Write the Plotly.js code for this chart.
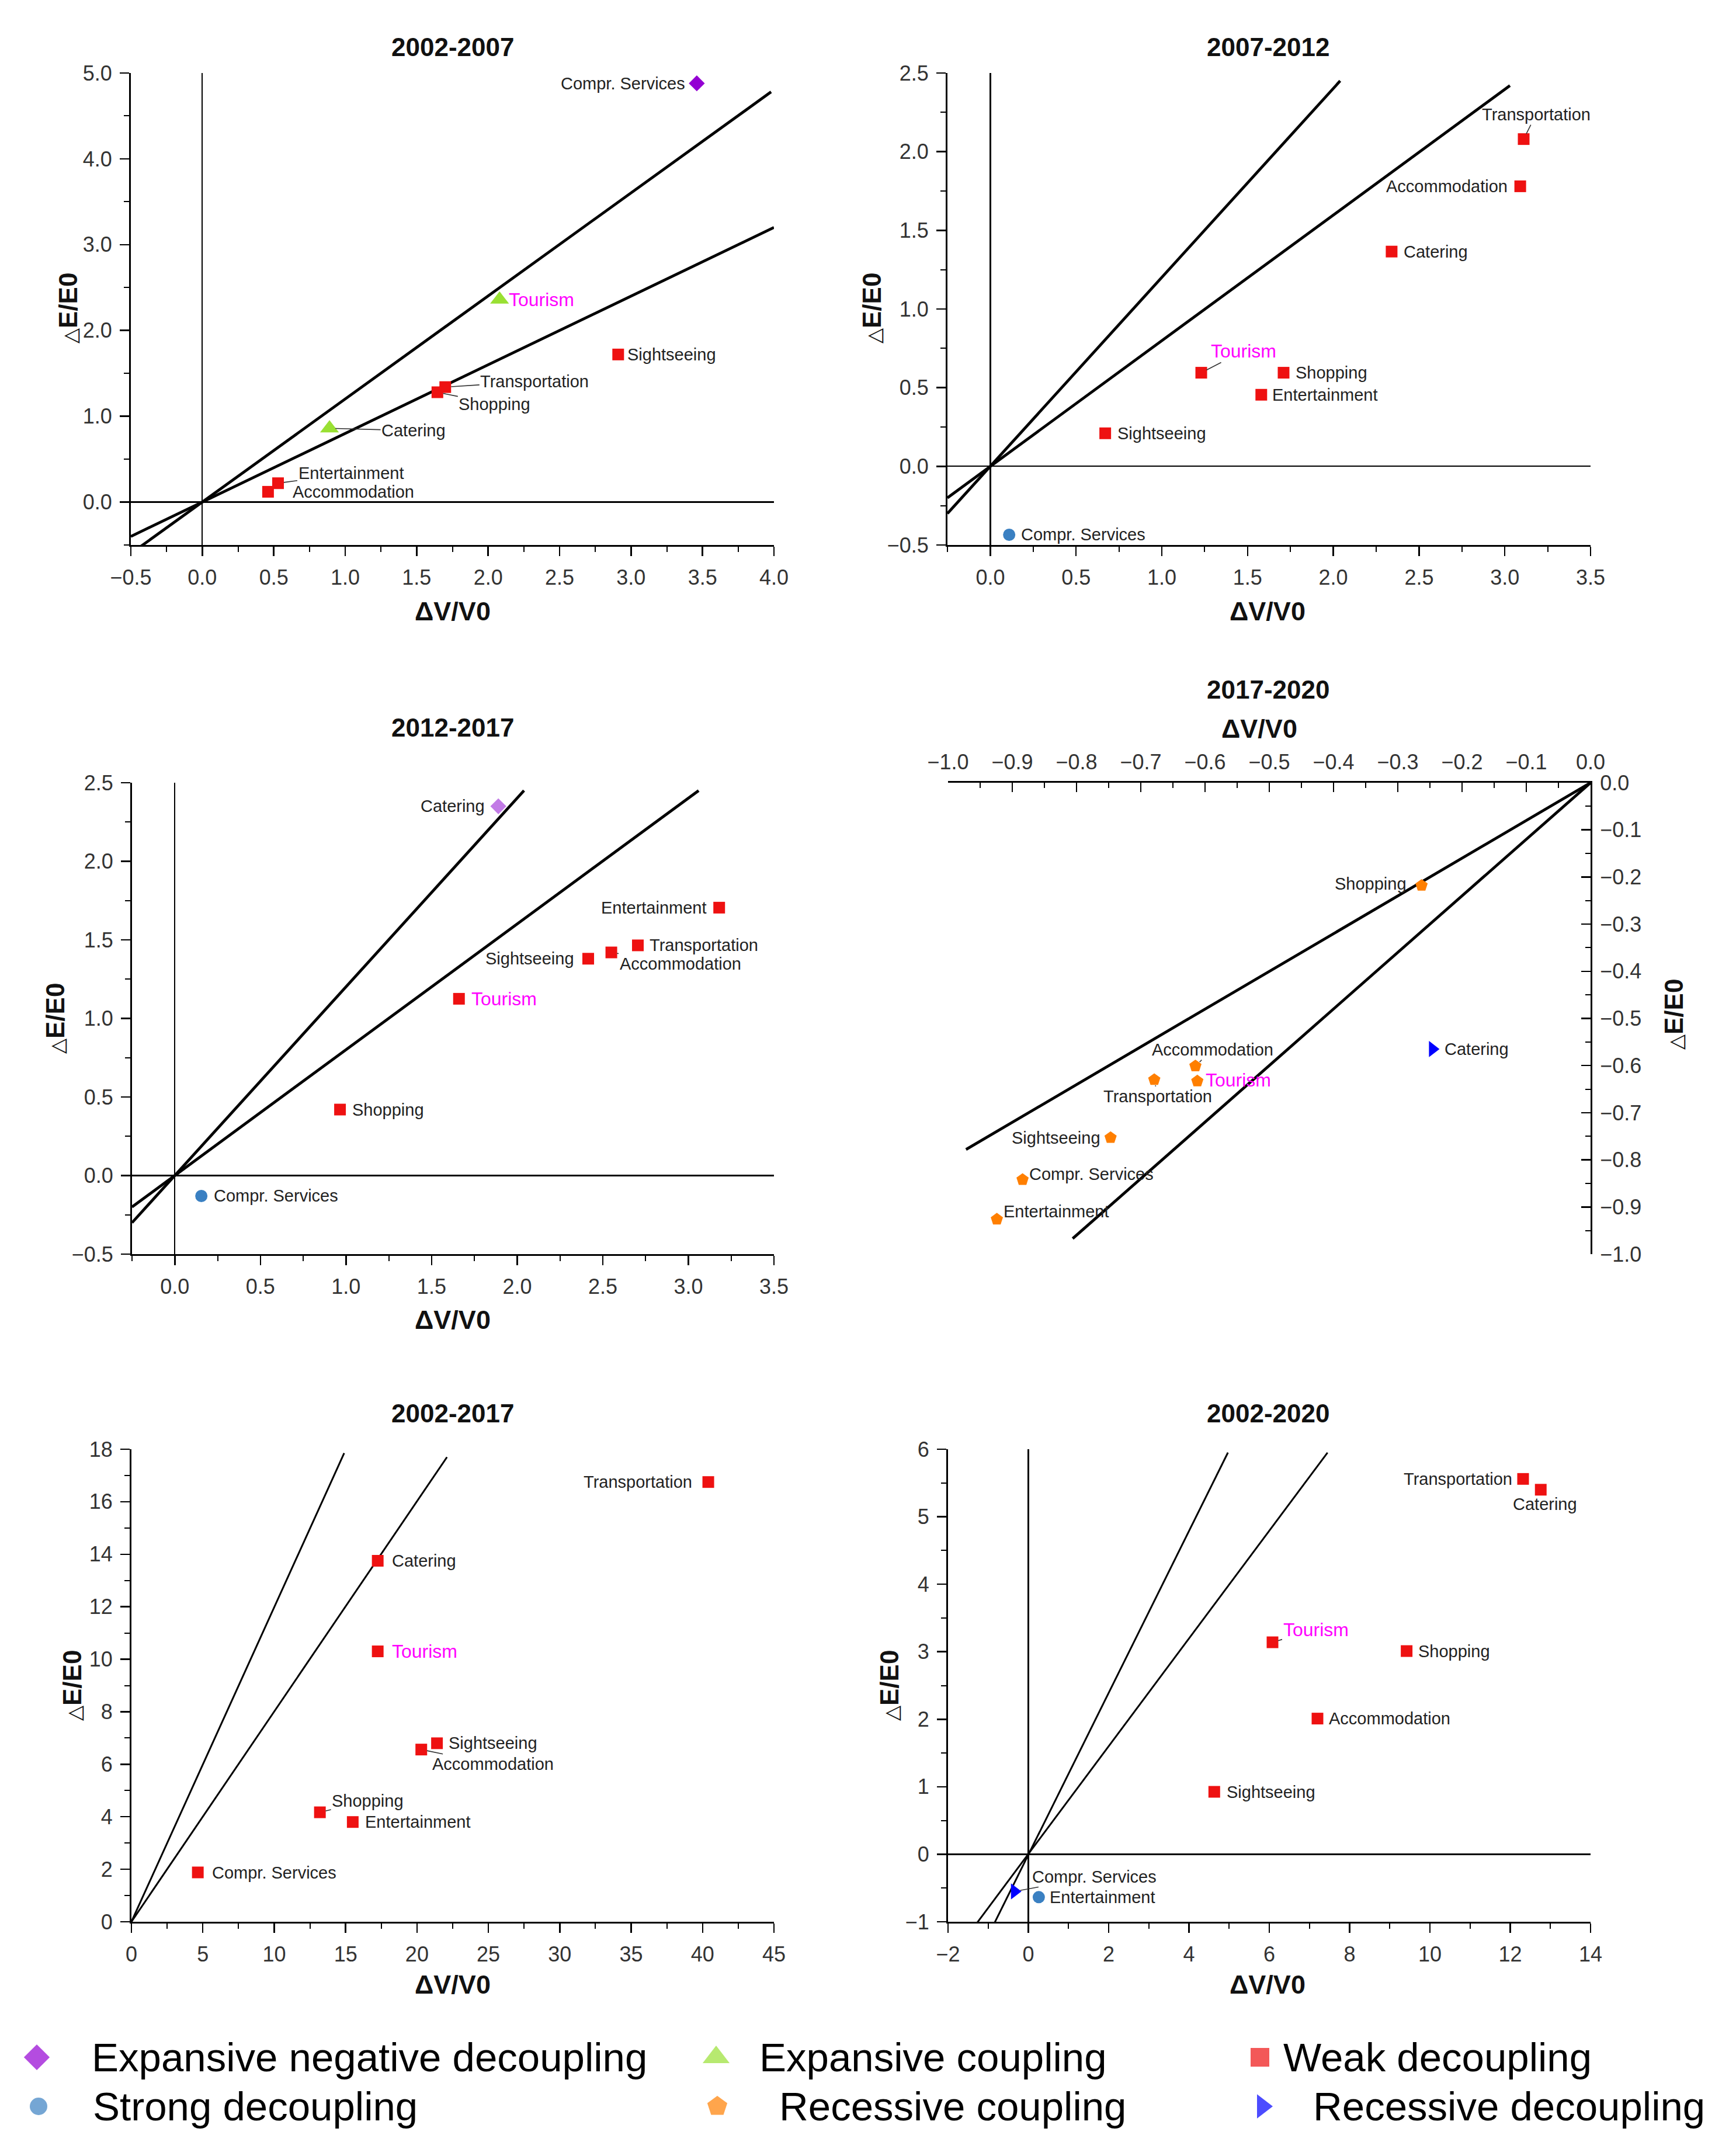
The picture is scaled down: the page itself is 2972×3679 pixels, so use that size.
<!DOCTYPE html>
<html><head><meta charset="utf-8">
<script src="https://cdn.plot.ly/plotly-3.0.1.min.js"></script>
<style>html,body{margin:0;padding:0;background:#fff}</style>
</head><body>
<div id="chart" style="width:2972px;height:3679px"></div>
<script>
// ---------------- DATA ----------------
const p1Title = "2002-2007";
const p1Names = ["Compr. Services","Tourism","Catering","Sightseeing","Transportation","Shopping","Entertainment","Accommodation"];
const p1X = [3.46, 2.08, 0.89, 2.91, 1.70, 1.645, 0.53, 0.46];
const p1Y = [4.88, 2.36, 0.86, 1.72, 1.34, 1.28, 0.22, 0.12];
const p1Types = ["END","EC","EC","WD","WD","WD","WD","WD"];
const p1LineAX = [-0.5, 3.98], p1LineAY = [-0.6, 4.78];
const p1LineBX = [-0.5, 4.0],  p1LineBY = [-0.4, 3.2];

const p2Title = "2007-2012";
const p2Names = ["Transportation","Accommodation","Catering","Tourism","Shopping","Entertainment","Sightseeing","Compr. Services"];
const p2X = [3.11, 3.09, 2.34, 1.23, 1.71, 1.58, 0.67, 0.11];
const p2Y = [2.08, 1.78, 1.365, 0.595, 0.595, 0.455, 0.21, -0.435];
const p2Types = ["WD","WD","WD","WD","WD","WD","WD","SD"];
const p2LineAX = [-0.25, 2.04], p2LineAY = [-0.3, 2.45];
const p2LineBX = [-0.25, 3.03], p2LineBY = [-0.2, 2.42];

const p3Title = "2012-2017";
const p3Names = ["Catering","Entertainment","Transportation","Accommodation","Sightseeing","Tourism","Shopping","Compr. Services"];
const p3X = [1.89, 3.18, 2.705, 2.55, 2.415, 1.66, 0.965, 0.155];
const p3Y = [2.35, 1.705, 1.465, 1.42, 1.38, 1.125, 0.42, -0.13];
const p3Types = ["END","WD","WD","WD","WD","WD","WD","SD"];
const p3LineAX = [-0.25, 2.04], p3LineAY = [-0.3, 2.45];
const p3LineBX = [-0.25, 3.06], p3LineBY = [-0.2, 2.45];

const p4Title = "2017-2020";
const p4Names = ["Shopping","Catering","Accommodation","Tourism","Transportation","Sightseeing","Compr. Services","Entertainment"];
const p4X = [-0.263, -0.246, -0.615, -0.612, -0.679, -0.747, -0.884, -0.924];
const p4Y = [-0.218, -0.565, -0.601, -0.633, -0.630, -0.753, -0.842, -0.926];
const p4Types = ["RC","RD","RC","RC","RC","RC","RC","RC"];
const p4LineAX = [0, -0.806], p4LineAY = [0, -0.967];
const p4LineBX = [0, -0.972], p4LineBY = [0, -0.778];

const p5Title = "2002-2017";
const p5Names = ["Transportation","Catering","Tourism","Sightseeing","Accommodation","Shopping","Entertainment","Compr. Services"];
const p5X = [40.4, 17.25, 17.25, 21.4, 20.3, 13.2, 15.5, 4.65];
const p5Y = [16.75, 13.75, 10.3, 6.8, 6.56, 4.17, 3.8, 1.88];
const p5Types = ["WD","WD","WD","WD","WD","WD","WD","WD"];
const p5LineAX = [0, 14.9], p5LineAY = [0, 17.85];
const p5LineBX = [0, 22.1], p5LineBY = [0, 17.7];

const p6Title = "2002-2020";
const p6Names = ["Transportation","Catering","Tourism","Shopping","Accommodation","Sightseeing","Compr. Services","Entertainment"];
const p6X = [12.32, 12.76, 6.08, 9.42, 7.2, 4.63, -0.345, 0.26];
const p6Y = [5.56, 5.40, 3.14, 3.01, 2.01, 0.925, -0.55, -0.635];
const p6Types = ["WD","WD","WD","WD","WD","WD","RD","SD"];
const p6LineAX = [-0.87, 4.97], p6LineAY = [-1.05, 5.95];
const p6LineBX = [-1.32, 7.45], p6LineBY = [-1.05, 5.95];

const legendLabels = ["Expansive negative decoupling","Expansive coupling","Weak decoupling","Strong decoupling","Recessive coupling","Recessive decoupling"];
const legendTypes = ["END","EC","WD","SD","RC","RD"];

const xTitleText = "<b>ΔV/V0</b>";
const yTitleText = "<span style=\"font-size:34px\">△</span><b>E/E0</b>";

// ---------------- STYLE ----------------
const W = 2972, H = 3679;
const FONT = "Liberation Sans, Arial, Helvetica, sans-serif";
const typeStyle = {
  END:{symbol:"diamond", color:"#9400D3", size:21, lsize:34},
  EC:{symbol:"triangle-up", color:"#99E033", size:28, lsize:40},
  WD:{symbol:"square", color:"#EE1111", size:20, lsize:32},
  SD:{symbol:"circle", color:"#3A80C2", size:21, lsize:30},
  RC:{symbol:"pentagon", color:"#FF7F00", size:22, lsize:36},
  RD:{symbol:"triangle-right", color:"#0000FF", size:24, lsize:36}
};
// label placement: [mode, dx(px), dy(px, down positive)]  l=left anchored, r=right anchored, a=leader line
const p1Lab = [["r",-18,0],["l",14,0],["a",144,4],["l",14,0],["a",153,-10],["a",98,20],["a",125,-17],["l",40,0]];
const p2Lab = [["a",21,-42],["r",-20,0],["l",19,0],["a",72,-37],["l",19,0],["l",17,0],["l",19,0],["l",18,0]];
const p3Lab = [["r",-21,0],["r",-19,0],["l",18,0],["a",118,19],["r",-22,0],["l",19,0],["l",19,0],["l",19,0]];
const p4Lab = [["r",-24,-3],["l",19,0],["a",29,-28],["l",12,-2],["a",6,29],["r",-15,0],["l",9,-9],["l",9,-13]];
const p5Lab = [["r",-26,0],["l",22,0],["l",22,0],["l",18,0],["a",123,25],["a",82,-20],["l",19,0],["l",22,0]];
const p6Lab = [["r",-17,0],["a",7,25],["a",74,-22],["l",18,0],["l",17,0],["l",19,0],["a",137,-25],["l",17,0]];

const panels = [
  {title:p1Title, names:p1Names, x:p1X, y:p1Y, types:p1Types, lines:[[p1LineAX,p1LineAY],[p1LineBX,p1LineBY]], lab:p1Lab,
   px:[224,1325], py:[125,933], xr:[-0.5,4.0], yr:[-0.5,5.0], xd:0.5, yd:1, xm:0.25, ym:0.5, fmt:".1f", zero:true, lw:4.8,
   tpos:[775,81], xtpos:[775,1046], ytpos:[116,528]},
  {title:p2Title, names:p2Names, x:p2X, y:p2Y, types:p2Types, lines:[[p2LineAX,p2LineAY],[p2LineBX,p2LineBY]], lab:p2Lab,
   px:[1622,2723], py:[125,933], xr:[-0.25,3.5], yr:[-0.5,2.5], xd:0.5, yd:0.5, xm:0.25, ym:0.25, fmt:".1f", zero:true, lw:4.8,
   tpos:[2171,81], xtpos:[2170,1046], ytpos:[1492,528]},
  {title:p3Title, names:p3Names, x:p3X, y:p3Y, types:p3Types, lines:[[p3LineAX,p3LineAY],[p3LineBX,p3LineBY]], lab:p3Lab,
   px:[226,1325], py:[1340,2147], xr:[-0.25,3.5], yr:[-0.5,2.5], xd:0.5, yd:0.5, xm:0.25, ym:0.25, fmt:".1f", zero:true, lw:4.8,
   tpos:[775,1245], xtpos:[775,2259], ytpos:[95,1744], colorOverride:{END:"#C27BE6"}},
  {title:p4Title, names:p4Names, x:p4X, y:p4Y, types:p4Types, lines:[[p4LineAX,p4LineAY],[p4LineBX,p4LineBY]], lab:p4Lab,
   px:[1623,2723], py:[1340,2147], xr:[-1.0,0.0], yr:[-1.0,0.0], xd:0.1, yd:0.1, xm:0.05, ym:0.05, fmt:".1f", zero:false, lw:4.8,
   flip:true, tpos:[2171,1180], xtpos:[2156,1247], ytpos:[2865,1737]},
  {title:p5Title, names:p5Names, x:p5X, y:p5Y, types:p5Types, lines:[[p5LineAX,p5LineAY],[p5LineBX,p5LineBY]], lab:p5Lab,
   px:[225,1325], py:[2481,3290], xr:[0,45], yr:[0,18], xd:5, yd:2, xm:2.5, ym:1, fmt:"d", zero:false, lw:3,
   tpos:[775,2419], xtpos:[775,3397], ytpos:[123,2886]},
  {title:p6Title, names:p6Names, x:p6X, y:p6Y, types:p6Types, lines:[[p6LineAX,p6LineAY],[p6LineBX,p6LineBY]], lab:p6Lab,
   px:[1623,2723], py:[2481,3290], xr:[-2,14], yr:[-1,6], xd:2, yd:1, xm:1, ym:0.5, fmt:"d", zero:true, lw:3,
   tpos:[2171,2419], xtpos:[2170,3397], ytpos:[1522,2886]}
];

const traces = [];
const annotations = [];
const layout = {
  width:W, height:H, margin:{l:0,r:0,t:0,b:0}, paper_bgcolor:"#fff", plot_bgcolor:"rgba(0,0,0,0)",
  showlegend:false, font:{family:FONT, color:"#222"}
};
const px2 = (v)=>v/W, py2 = (v)=>1-v/H;

panels.forEach((p, k) => {
  const n = k+1;
  const xid = n===1 ? "x" : "x"+n, yid = n===1 ? "y" : "y"+n;
  const xkey = n===1 ? "xaxis" : "xaxis"+n, ykey = n===1 ? "yaxis" : "yaxis"+n;
  const tickIn = p.flip ? "inside" : "outside";
  const common = {
    showline:true, linewidth:3, linecolor:"black", showgrid:false,
    ticks:tickIn, ticklen:16, tickwidth:2.5, tickcolor:"black", tick0:0,
    tickformat:p.fmt, tickfont:{family:FONT, size:36, color:"#333"},
    zeroline:p.zero, zerolinecolor:"black", zerolinewidth:2.2, fixedrange:true,
    ticklabelstandoff:6
  };
  layout[xkey] = Object.assign({}, common, {
    domain:[px2(p.px[0]), px2(p.px[1])], range:p.xr, anchor:yid, dtick:p.xd,
    side: p.flip ? "top" : "bottom",
    minor:{dtick:p.xm, tick0:0, ticks:tickIn, ticklen:9, tickwidth:2, tickcolor:"black"}
  });
  layout[ykey] = Object.assign({}, common, {
    domain:[py2(p.py[1]), py2(p.py[0])], range:p.yr, anchor:xid, dtick:p.yd,
    side: p.flip ? "right" : "left",
    minor:{dtick:p.ym, tick0:0, ticks:tickIn, ticklen:9, tickwidth:2, tickcolor:"black"}
  });
  p.lines.forEach(l => traces.push({type:"scatter", mode:"lines", x:l[0], y:l[1], xaxis:xid, yaxis:yid,
    line:{color:"black", width:p.lw}, hoverinfo:"skip"}));
  const co = p.colorOverride || {};
  traces.push({type:"scatter", mode:"markers", x:p.x, y:p.y, xaxis:xid, yaxis:yid, cliponaxis:false,
    marker:{symbol:p.types.map(t=>typeStyle[t].symbol), color:p.types.map(t=>co[t]||typeStyle[t].color),
            size:p.types.map(t=>typeStyle[t].size), opacity:1, line:{width:0}}});
  p.names.forEach((nm, i) => {
    const [mode, dx, dy] = p.lab[i];
    const isT = nm === "Tourism";
    const base = {x:p.x[i], y:p.y[i], xref:xid, yref:yid, text:nm,
      font:{family:FONT, size:isT?32:29, color:isT?"#FF00FF":"#222"}};
    if (mode === "a") {
      annotations.push(Object.assign(base, {showarrow:true, arrowhead:0, arrowwidth:1.6, arrowcolor:"#333",
        ax:dx, ay:dy, standoff:10}));
    } else {
      annotations.push(Object.assign(base, {showarrow:false, xanchor:mode==="l"?"left":"right", yanchor:"middle",
        xshift:dx, yshift:-dy}));
    }
  });
  annotations.push({xref:"paper", yref:"paper", x:px2(p.tpos[0]), y:py2(p.tpos[1]), text:"<b>"+p.title+"</b>",
    showarrow:false, xanchor:"center", yanchor:"middle", font:{family:FONT, size:44, color:"#111"}});
  annotations.push({xref:"paper", yref:"paper", x:px2(p.xtpos[0]), y:py2(p.xtpos[1]), text:xTitleText,
    showarrow:false, xanchor:"center", yanchor:"middle", font:{family:FONT, size:45, color:"#111"}});
  annotations.push({xref:"paper", yref:"paper", x:px2(p.ytpos[0]), y:py2(p.ytpos[1]), text:yTitleText, textangle:-90,
    showarrow:false, xanchor:"center", yanchor:"middle", font:{family:FONT, size:44, color:"#111"}});
});

// ---------------- LEGEND (overlay subplot in pixel units) ----------------
const legMarkerPos = [[63,3522],[1226,3522],[2157,3522],[66,3606],[1228,3606],[2161,3606]];
const legTextX = [155,1298,2195,157,1332,2246];
layout.xaxis7 = {domain:[0,1], range:[0,W], visible:false, fixedrange:true, anchor:"y7"};
layout.yaxis7 = {domain:[0,1], range:[H,0], visible:false, fixedrange:true, anchor:"x7"};
traces.push({type:"scatter", mode:"markers", xaxis:"x7", yaxis:"y7", hoverinfo:"skip",
  x:legMarkerPos.map(d=>d[0]), y:legMarkerPos.map(d=>d[1]),
  marker:{symbol:legendTypes.map(t=>typeStyle[t].symbol), color:legendTypes.map(t=>typeStyle[t].color),
          size:legendTypes.map(t=>typeStyle[t].lsize), line:{width:0}}});
legendLabels.forEach((lab, i) => {
  annotations.push({xref:"paper", yref:"paper", x:px2(legTextX[i]), y:py2(legMarkerPos[i][1]), text:lab,
    showarrow:false, xanchor:"left", yanchor:"middle", font:{family:FONT, size:69, color:"#000"}});
});

layout.annotations = annotations;
Plotly.newPlot("chart", traces, layout, {staticPlot:true, displayModeBar:false});
</script>
</body></html>
